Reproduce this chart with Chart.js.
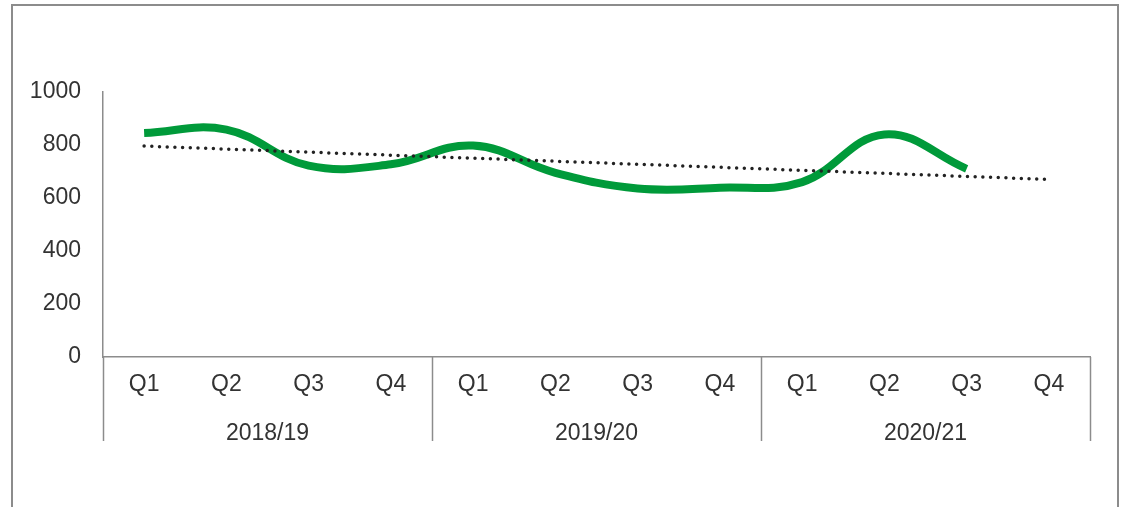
<!DOCTYPE html>
<html>
<head>
<meta charset="utf-8">
<script src="https://cdn.jsdelivr.net/npm/chart.js@4.4.1/dist/chart.umd.min.js"></script>
<style>
  html, body { margin: 0; padding: 0; background: #fff; }
  #wrap { position: relative; width: 1126px; height: 507px; overflow: hidden; }
  #frame { position: absolute; left: 11px; top: 4px; width: 1104px; height: 560px;
           border: 2px solid #8c8c8c; pointer-events: none; }
  canvas { position: absolute; left: 0; top: 0; }
</style>
</head>
<body>
<div id="wrap">
  <canvas id="chart" width="1126" height="507"></canvas>
  <div id="frame"></div>
</div>
<script>
// Quarterly values
const quarters = ["Q1", "Q2", "Q3", "Q4", "Q1", "Q2", "Q3", "Q4", "Q1", "Q2", "Q3", "Q4"];
const years = ["2018/19", "2019/20", "2020/21"];
const values = [845, 858, 722, 727, 798, 695, 636, 639, 660, 840, 710, null];
// Linear trend: only the two end points are given, the line spans between them
const trend = [796, null, null, null, null, null, null, null, null, null, null, 670];
const yTicks = [0, 200, 400, 600, 800, 1000];

const axisGrey = "#8c8c8c";
const textColor = "#333333";
const font = { family: "'Liberation Sans', Arial, sans-serif", size: 23 };

// Vertical separators between the year groups, below the x axis
const groupLines = {
    id: "groupLines",
    afterDraw(chart) {
        const x = chart.scales.x;
        const yr = chart.scales.years;
        const ctx = chart.ctx;
        ctx.save();
        ctx.strokeStyle = axisGrey;
        ctx.lineWidth = 1.5;
        for (let i = 0; i <= quarters.length; i += 4) {
            const px = Math.round(x.getPixelForValue(i - 0.5)) + 0.5;
            ctx.beginPath();
            ctx.moveTo(px, chart.chartArea.bottom);
            ctx.lineTo(px, yr.top + 29);
            ctx.stroke();
        }
        ctx.restore();
    }
};

const ctx = document.getElementById("chart").getContext("2d");
new Chart(ctx, {
    type: "line",
    data: {
        labels: quarters,
        datasets: [
            {
                label: "Trend",
                data: trend,
                borderColor: "#222222",
                borderWidth: 3.5,
                borderDash: [0, 7.7],
                borderCapStyle: "round",
                pointRadius: 0,
                spanGaps: true,
                tension: 0,
                order: 0
            },
            {
                label: "Value",
                data: values,
                borderColor: "#009a3a",
                borderWidth: 8,
                pointRadius: 0,
                tension: 0.4,
                order: 1
            }
        ]
    },
    options: {
        responsive: false,
        animation: false,
        devicePixelRatio: 1,
        layout: { padding: { left: 0, right: 36, top: 92, bottom: 55 } },
        plugins: { legend: { display: false }, tooltip: { enabled: false } },
        scales: {
            y: {
                min: 0,
                max: 1000,
                afterBuildTicks: (s) => { s.ticks = yTicks.map(v => ({ value: v })); },
                afterFit: (s) => { s.width = 103; },
                grid: { display: false },
                border: { display: true, color: axisGrey, width: 1.5 },
                ticks: { color: textColor, font: font, padding: 14, callback: (v) => String(v) }
            },
            x: {
                offset: true,
                grid: { display: false },
                border: { display: true, color: axisGrey, width: 1.5 },
                afterFit: (s) => { s.height = 55; },
                ticks: { color: textColor, font: font, padding: 6, maxRotation: 0, autoSkip: false }
            },
            years: {
                type: "category",
                position: "bottom",
                labels: years,
                offset: true,
                grid: { display: false },
                border: { display: false },
                afterFit: (s) => { s.height = 40; },
                ticks: { color: textColor, font: font, padding: 0, maxRotation: 0, autoSkip: false }
            }
        }
    },
    plugins: [groupLines]
});
</script>
</body>
</html>
